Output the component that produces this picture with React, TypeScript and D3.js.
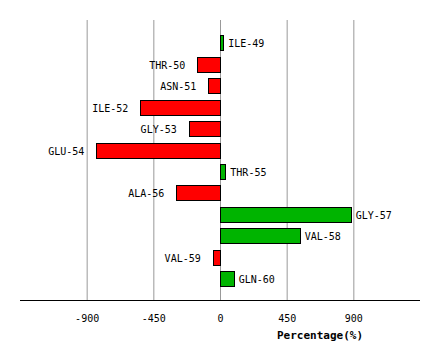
import * as d3 from 'd3'

const residues = ['ILE-49', 'THR-50', 'ASN-51', 'ILE-52', 'GLY-53', 'GLU-54', 'THR-55', 'ALA-56', 'GLY-57', 'VAL-58', 'VAL-59', 'GLN-60']
const percentages = [22, -153, -79, -538, -211, -835, 36, -295, 882, 538, -49, 92]
const tickValues = [-900, -450, 0, 450, 900]

const W = 440
const H = 360
const FONT = '"DejaVu Sans Mono", monospace'

export default function App() {
  const x = d3.scaleLinear().domain([-1350, 1350]).range([20, 420])
  const y = d3.scaleBand<string>().domain(residues).range([32, 289.5]).paddingInner(0.3).paddingOuter(0.15)
  const axisY = 300

  return (
    <svg width={W} height={H} style={{ position: 'absolute', left: 0, top: 0, background: '#fff' }}>
      {/* grid */}
      {tickValues.map((t) => (
        <line key={t} x1={x(t) + 0.5} x2={x(t) + 0.5} y1={20} y2={axisY} stroke="#999" strokeWidth={1} />
      ))}
      {/* bars */}
      {residues.map((r, i) => {
        const v = percentages[i]
        const x0 = x(Math.min(0, v))
        const x1 = x(Math.max(0, v))
        const yy = Math.round(y(r)!) + 0.5
        const h = Math.round(y.bandwidth())
        return (
          <g key={r}>
            <rect
              x={Math.round(x0) + 0.5}
              y={yy}
              width={Math.max(1, Math.round(x1 - x0))}
              height={h}
              fill={v >= 0 ? '#00b400' : '#ff0000'}
              stroke="#000"
              strokeWidth={1}
            />
            <text
              x={v >= 0 ? x1 + 5 : x0 - 12}
              y={yy + h / 2 + 4}
              textAnchor={v >= 0 ? 'start' : 'end'}
              fontFamily={FONT}
              fontSize={10}
              fill="#000"
            >
              {r}
            </text>
          </g>
        )
      })}
      {/* axis */}
      <line x1={20} x2={420} y1={axisY + 0.5} y2={axisY + 0.5} stroke="#000" strokeWidth={1} />
      {tickValues.map((t) => (
        <text key={t} x={x(t) + 0.5} y={axisY + 22} textAnchor="middle" fontFamily={FONT} fontSize={10} fill="#000">
          {t}
        </text>
      ))}
      <text x={320} y={339} textAnchor="middle" fontFamily={FONT} fontSize={11} fontWeight="bold" fill="#000">
        Percentage(%)
      </text>
    </svg>
  )
}
